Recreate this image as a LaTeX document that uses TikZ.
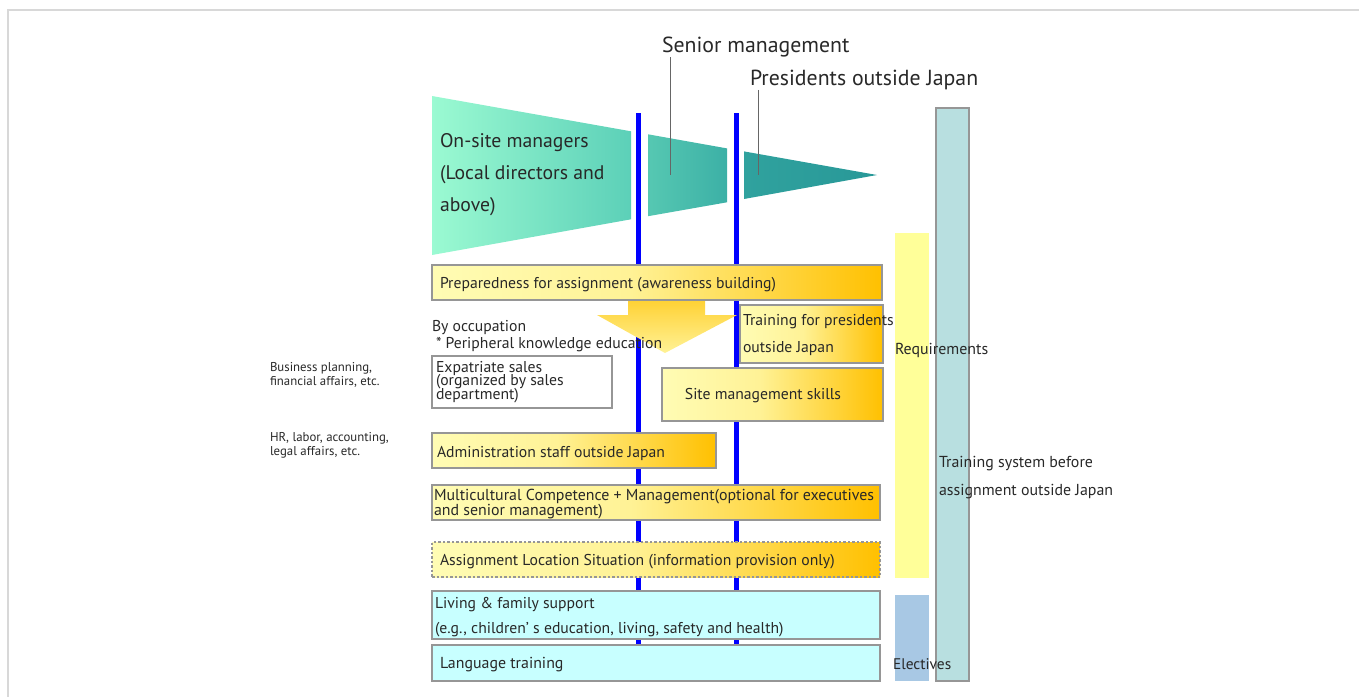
\documentclass[tikz,border=0pt]{standalone}
\usepackage{fontspec}
\setmainfont{PT Sans}
\usetikzlibrary{calc}
\newcommand\tightlines{\lineskiplimit=-20pt\relax}
\definecolor{txt}{RGB}{40,40,40}
\definecolor{ya}{RGB}{255,252,180}
\definecolor{yb}{RGB}{255,242,150}
\definecolor{yc}{RGB}{255,212,60}
\definecolor{yd}{RGB}{255,192,0}
\definecolor{boxline}{RGB}{150,150,150}
\definecolor{cyanfill}{RGB}{200,255,255}
\definecolor{reqfill}{RGB}{255,255,153}
\definecolor{elecfill}{RGB}{168,200,228}
\definecolor{sysfill}{RGB}{184,223,224}
\definecolor{frame}{RGB}{216,216,216}
\definecolor{bl}{RGB}{0,0,255}
\definecolor{fa}{RGB}{155,250,210}
\definecolor{fb}{RGB}{92,208,184}
\definecolor{fc}{RGB}{86,200,178}
\definecolor{fd}{RGB}{60,176,166}
\definecolor{fe}{RGB}{48,162,158}
\definecolor{ff}{RGB}{40,152,152}
\pgfdeclarehorizontalshading{yshade}{100bp}{color(0bp)=(ya); color(25bp)=(ya); color(47bp)=(yb); color(64bp)=(yc); color(75bp)=(yd); color(100bp)=(yd)}
\tikzset{
  boxbase/.style={inner sep=0pt, outer sep=0pt, anchor=north west, draw=boxline, line width=1.2pt},
  ybox/.style={boxbase, shade, shading=yshade},
  wbox/.style={boxbase, fill=white},
  cbox/.style={boxbase, fill=cyanfill},
  bar/.style={inner sep=0pt, outer sep=0pt, anchor=north west},
  lbl/.style={inner sep=0pt, outer sep=0pt, anchor=west, text=txt, align=left},
  blueline/.style={draw=bl, line width=5pt},
  leader/.style={draw=black!60, line width=1pt},
}
\begin{document}
\begin{tikzpicture}[x=1pt,y=-1pt]
\useasboundingbox (0,0) rectangle (1359,696);
% frame
\draw[frame, line width=2pt] (8,697) -- (8,10) -- (1360,10);
% blue lines
\coordinate (bl1t) at (638,113); \coordinate (bl1b) at (638,645);
\coordinate (bl2t) at (736,113); \coordinate (bl2b) at (736,645);
\draw[blueline] (bl1t) -- (bl1b);
\draw[blueline] (bl2t) -- (bl2b);
% funnel
\shade[left color=fa, right color=fb] (432,96) -- (631,131.3) -- (631,219.3) -- (432,255) -- cycle;
\shade[left color=fc, right color=fd] (648,134.3) -- (727,148.4) -- (727,202.3) -- (648,216.2) -- cycle;
\shade[left color=fe, right color=ff] (744,151.4) -- (877,175) -- (744,199) -- cycle;
% titles and leaders
\node[lbl, font=\fontsize{21.8}{24}\selectfont] (sm) at (662,47) {Senior management};
\node[lbl, font=\fontsize{21.8}{24}\selectfont] (pj) at (750,80) {Presidents outside Japan};
\coordinate (smtip) at (670,175);
\coordinate (pjtip) at (758,175);
\draw[leader] (smtip |- sm.south) -- (smtip);
\draw[leader] (pjtip |- pj.south) -- (pjtip);
\node[lbl, font=\fontsize{19.7}{32}\selectfont] (onsite) at (440,175) {On-site managers\\(Local directors and\\above)};
% boxes
\node[ybox, minimum width=450, minimum height=35] (prep) at (432,265) {};
\shade[top color=yc!90!yd, bottom color=yb] (628,301) -- (705,301) -- (705,315) -- (737,315) -- (665,353) -- (597,315) -- (628,315) -- cycle;
\node[ybox, minimum width=143, minimum height=58] (train) at (740,305) {};
\node[ybox, minimum width=221, minimum height=53] (site) at (662,368) {};
\node[wbox, minimum width=180, minimum height=52] (expat) at (432,356) {};
\node[ybox, minimum width=284, minimum height=35] (admin) at (432,433) {};
\node[ybox, minimum width=448, minimum height=35] (multi) at (432,485) {};
\node[ybox, minimum width=448, minimum height=35, dash pattern=on 2.5pt off 2pt] (assign) at (432,542) {};
\node[cbox, minimum width=448, minimum height=48] (living) at (432,591) {};
\node[cbox, minimum width=448, minimum height=36] (lang) at (432,645) {};
% right bars
\node[bar, fill=reqfill, minimum width=34, minimum height=345] (reqbar) at (895,233) {};
\node[bar, fill=elecfill, minimum width=34, minimum height=86] (elecbar) at (895,595) {};
\node[bar, fill=sysfill, draw=boxline, line width=1.2pt, minimum width=33, minimum height=573] (sysbar) at (936,108) {};
% texts
\node[lbl, font=\fontsize{15.7}{16}\selectfont] (tprep) at (440,285) {Preparedness for assignment (awareness building)};
\node[lbl, font=\fontsize{15.7}{16}\selectfont] (occ1) at (432,328) {By occupation};
\node[lbl, font=\fontsize{15.7}{16}\selectfont] (occ2) at (436,345) {* Peripheral knowledge education};
\node[lbl, font=\fontsize{15.7}{27}\selectfont] (ttrain) at (743,335.5) {Training for presidents\\outside Japan};
\node[lbl, anchor=center, font=\fontsize{15.7}{16}\selectfont] (tsite) at (763,396) {Site management skills};
\node[lbl, font=\fontsize{15.7}{13.5}\selectfont\tightlines] (texpat) at (436,382) {Expatriate sales\\(organized by sales\\department)};
\node[lbl, font=\fontsize{12.8}{14}\selectfont\tightlines] (lab1) at (270,375) {Business planning,\\financial affairs, etc.};
\node[lbl, font=\fontsize{12.8}{14}\selectfont\tightlines] (lab2) at (270,445.5) {HR, labor, accounting,\\legal affairs, etc.};
\node[lbl, font=\fontsize{15.7}{16}\selectfont] (tadmin) at (437,453) {Administration staff outside Japan};
\node[lbl, font=\fontsize{15.9}{15}\selectfont\tightlines] (tmulti) at (434,504.5) {Multicultural Competence + Management(optional for executives\\and senior management)};
\node[lbl, font=\fontsize{15.7}{16}\selectfont] (tassign) at (440,562) {Assignment Location Situation (information provision only)};
\node[lbl, font=\fontsize{15.7}{25}\selectfont] (tliving) at (435,617.5) {Living \& family support\\(e.g., children’ s education, living, safety and health)};
\node[lbl, font=\fontsize{15.9}{16}\selectfont] (tlang) at (440,665) {Language training};
\node[lbl, font=\fontsize{15.9}{16}\selectfont] (treq) at (895,350) {Requirements};
\node[lbl, font=\fontsize{15.4}{16}\selectfont] (telec) at (893,664) {Electives};
\node[lbl, font=\fontsize{15.9}{28}\selectfont] (tsys) at (939,478) {Training system before\\assignment outside Japan};
\end{tikzpicture}
\end{document}
